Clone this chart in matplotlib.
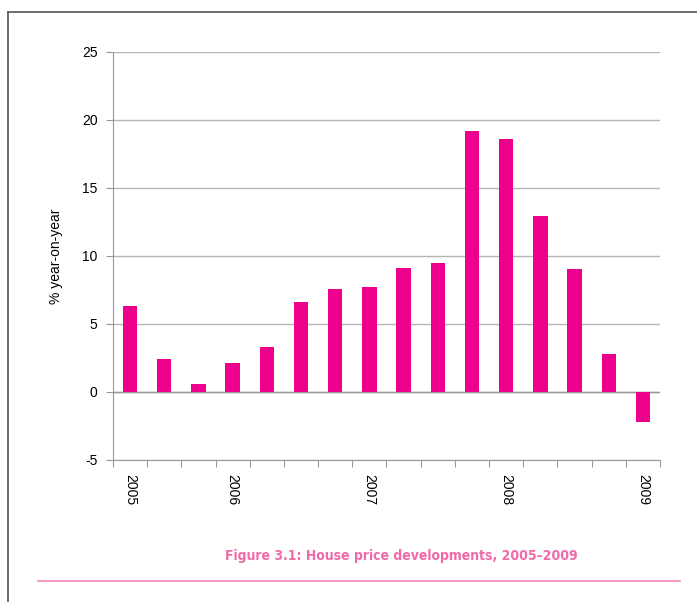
import matplotlib
matplotlib.use("Agg")
import matplotlib.pyplot as plt
from matplotlib.lines import Line2D
from matplotlib import font_manager

fl = font_manager.fontManager.ttflist
names = {f.name for f in fl}
narrow = "Liberation Sans Narrow" if "Liberation Sans Narrow" in names else "Liberation Sans"
dv_cond = any(f.name == "DejaVu Sans" and f.stretch in ("condensed", 'semi-condensed') and f.weight in ("bold", 700) for f in fl)

quarters = ["2005", "", "", "2006", "", "", "", "2007", "", "", "", "2008", "", "", "", "2009"]
values = [6.3, 2.4, 0.6, 2.1, 3.3, 6.6, 7.6, 7.7, 9.1, 9.5, 19.2, 18.6, 12.9, 9.0, 2.8, -2.2]
yticks = [-5, 0, 5, 10, 15, 20, 25]
title = "Figure 3.1: House price developments, 2005\u20132009"

fig = plt.figure(figsize=(6.97, 6.02), dpi=100)
ax = fig.add_axes([0.162, 0.236, 0.785, 0.678])

x = list(range(len(values)))
ax.bar(x, values, width=0.42, color="#ec008c", zorder=3)

ax.set_xlim(-0.5, len(values) - 0.5)
ax.set_ylim(-5, 25)
ax.set_yticks(yticks)
ax.set_yticklabels([str(v) for v in yticks], fontsize=10, family=narrow)
ax.yaxis.grid(True, color="#b5b5b5", linewidth=1.0, zorder=0)
ax.set_axisbelow(True)

ax.set_xticks([i - 0.5 for i in range(len(values) + 1)])
ax.set_xticklabels([])
ax.set_xticks(x, minor=True)
ax.set_xticklabels(quarters, minor=True, rotation=-90, fontsize=10, family=narrow, va="top")
ax.tick_params(axis="x", which="major", length=5, color="#999999", direction="out")
ax.tick_params(axis="x", which="minor", length=0, pad=10)
ax.tick_params(axis="y", length=5, color="#999999", pad=6)

for s in ["top", "right"]:
    ax.spines[s].set_visible(False)
for s in ["left", "bottom"]:
    ax.spines[s].set_color("#999999")
ax.axhline(0, color="#999999", linewidth=1.0, zorder=2)

ax.set_ylabel("% year-on-year", fontsize=10, family=narrow, labelpad=14)

fig.add_artist(Line2D([8 / 697, 1.0], [1 - 12 / 602, 1 - 12 / 602], transform=fig.transFigure,
                      color="#555555", linewidth=1.2))
fig.add_artist(Line2D([8 / 697, 8 / 697], [0, 1 - 12 / 602], transform=fig.transFigure,
                      color="#555555", linewidth=1.2))

if narrow == "Liberation Sans Narrow":
    tkw = dict(family=narrow, fontsize=13)
elif dv_cond:
    tkw = dict(family="DejaVu Sans", fontstretch="condensed", fontsize=10)
else:
    tkw = dict(family="Liberation Sans", fontsize=10.5)
fig.text(401 / 697, 1 - 556 / 602, title, color="#f06aa8", fontweight="bold",
         ha="center", va="center", **tkw)
fig.add_artist(Line2D([38 / 697, 680 / 697], [1 - 581 / 602, 1 - 581 / 602], transform=fig.transFigure,
                      color="#f48fc0", linewidth=1.3))

fig.savefig("out.png", dpi=100)
